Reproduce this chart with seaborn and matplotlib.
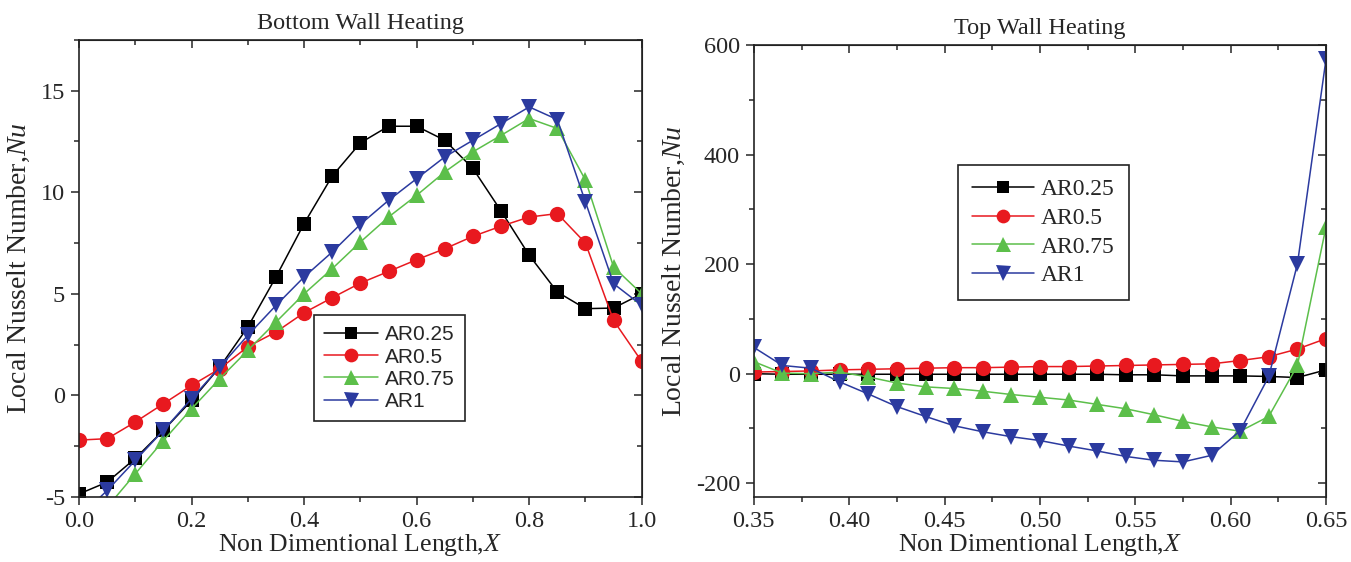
import matplotlib
matplotlib.use("Agg")
import matplotlib.pyplot as plt
import seaborn as sns
from matplotlib.ticker import MultipleLocator, FormatStrFormatter

# Data: Bottom wall heating
x_bottom = [0.0, 0.05, 0.1, 0.15, 0.2, 0.25, 0.3, 0.35, 0.4, 0.45, 0.5,
            0.55, 0.6, 0.65, 0.7, 0.75, 0.8, 0.85, 0.9, 0.95, 1.0]
bottom_ar025 = [-4.85, -4.27, -3.1, -1.72, -0.25, 1.39, 3.37, 5.83, 8.46, 10.8, 12.43,
                13.25, 13.25, 12.56, 11.17, 9.08, 6.9, 5.09, 4.27, 4.3, 5.0]
bottom_ar05 = [-2.2, -2.13, -1.31, -0.41, 0.49, 1.31, 2.4, 3.12, 4.07, 4.81, 5.53,
               6.1, 6.68, 7.22, 7.83, 8.33, 8.78, 8.95, 7.5, 3.69, 1.67]
bottom_ar075 = [-7.0, -5.5, -3.86, -2.22, -0.66, 0.82, 2.22, 3.61, 5.0, 6.24, 7.55,
                8.78, 9.85, 11.0, 11.99, 12.8, 13.63, 13.14, 10.6, 6.32, 5.0]
bottom_ar1 = [-6.0, -4.68, -3.2, -1.72, -0.16, 1.39, 2.96, 4.43, 5.83, 7.06, 8.42,
              9.6, 10.67, 11.74, 12.56, 13.38, 14.2, 13.58, 9.52, 5.5, 4.43]

# Data: Top wall heating
x_top = [0.35, 0.365, 0.38, 0.395, 0.41, 0.425, 0.44, 0.455, 0.47, 0.485, 0.5,
         0.515, 0.53, 0.545, 0.56, 0.575, 0.59, 0.605, 0.62, 0.635, 0.65]
top_ar025 = [0, -1, -1, -1, -1, -1, -1, -1, -1, -1, -1,
             -1, -1, -2, -2, -4, -4, -4, -5, -7, 7]
top_ar05 = [3, 4, 5, 7, 8, 9, 10, 11, 11, 12, 13,
            13, 14, 15, 16, 17, 18, 24, 31, 45, 64]
top_ar075 = [22, 1, 0, 3, -6, -17, -24, -27, -32, -38, -43,
             -48, -56, -64, -75, -87, -97, -105, -78, 15, 268]
top_ar1 = [48, 15, 10, -15, -37, -60, -78, -95, -106, -115, -122,
           -132, -141, -151, -158, -161, -149, -104, -5, 200, 574]

labels = ["AR0.25", "AR0.5", "AR0.75", "AR1"]
colors = ["#000000", "#e8191f", "#5cbf4a", "#2b3a9f"]
markers = ["s", "o", "^", "v"]
msizes = [10, 11, 12, 12]

sns.set_style("ticks")
plt.rcParams["font.family"] = ["Liberation Serif", "DejaVu Serif"]
plt.rcParams["mathtext.fontset"] = "custom"
plt.rcParams["mathtext.it"] = "Liberation Serif:italic"
plt.rcParams["mathtext.rm"] = "Liberation Serif"
plt.rcParams["axes.unicode_minus"] = False

fig = plt.figure(figsize=(13.51, 5.62), dpi=100)
ax1 = fig.add_axes([0.0585, 0.1157, 0.4165, 0.8133])
ax2 = fig.add_axes([0.558, 0.1157, 0.4235, 0.8043])


def draw(ax, x, series):
    for y, lab, c, m, ms in zip(series, labels, colors, markers, msizes):
        sns.lineplot(x=x, y=y, ax=ax, color=c, marker=m, markersize=ms,
                     markeredgewidth=0, markeredgecolor=c, linewidth=1.1,
                     label=lab, sort=False)


def style(ax, xmaj, xmin, ymaj, ymin):
    ax.xaxis.set_major_locator(MultipleLocator(xmaj))
    ax.xaxis.set_minor_locator(MultipleLocator(xmin))
    ax.yaxis.set_major_locator(MultipleLocator(ymaj))
    ax.yaxis.set_minor_locator(MultipleLocator(ymin))
    ax.tick_params(which="major", direction="out", length=6, width=1.1,
                   labelsize=17.5, pad=4)
    ax.tick_params(which="minor", direction="out", length=3.5, width=1.1)
    for s in ax.spines.values():
        s.set_linewidth(1.2)
        s.set_color("#222222")
    # mirrored inward ticks on top and right
    top = ax.secondary_xaxis("top")
    top.xaxis.set_major_locator(MultipleLocator(xmaj))
    top.xaxis.set_minor_locator(MultipleLocator(xmin))
    top.tick_params(which="major", direction="in", length=6, width=1.1, labeltop=False)
    top.tick_params(which="minor", direction="in", length=3.5, width=1.1)
    right = ax.secondary_yaxis("right")
    right.yaxis.set_major_locator(MultipleLocator(ymaj))
    right.yaxis.set_minor_locator(MultipleLocator(ymin))
    right.tick_params(which="major", direction="in", length=6, width=1.1, labelright=False)
    right.tick_params(which="minor", direction="in", length=3.5, width=1.1)
    ax.set_xlabel("Non Dimentional Length,$X$", fontsize=18.5, labelpad=0)
    ax.set_ylabel("Local Nusselt Number,$Nu$", fontsize=20, labelpad=6)


# Left panel
draw(ax1, x_bottom, [bottom_ar025, bottom_ar05, bottom_ar075, bottom_ar1])
ax1.set_xlim(0.0, 1.0)
ax1.set_ylim(-5, 17.5)
style(ax1, 0.2, 0.1, 5, 2.5)
ax1.xaxis.set_major_formatter(FormatStrFormatter("%.1f"))
ax1.set_title("Bottom Wall Heating", fontsize=17.5, pad=8)
leg1 = ax1.legend(loc="upper left", bbox_to_anchor=(0.417, 0.398), frameon=True,
                  fancybox=False, framealpha=1, edgecolor="#222222",
                  prop={"family": "Liberation Sans", "size": 15},
                  handlelength=2.6, handletextpad=0.3, labelspacing=0.15,
                  borderpad=0.5, borderaxespad=0, markerscale=0.9)
leg1.get_frame().set_linewidth(1.2)

# Right panel
draw(ax2, x_top, [top_ar025, top_ar05, top_ar075, top_ar1])
ax2.set_xlim(0.35, 0.65)
ax2.set_ylim(-225, 600)
style(ax2, 0.05, 0.025, 200, 100)
ax2.xaxis.set_major_formatter(FormatStrFormatter("%.2f"))
ax2.set_title("Top Wall Heating", fontsize=17.5, pad=8)
leg2 = ax2.legend(loc="upper left", bbox_to_anchor=(0.357, 0.735), frameon=True,
                  fancybox=False, framealpha=1, edgecolor="#222222",
                  prop={"family": "Liberation Serif", "size": 17},
                  handlelength=2.6, handletextpad=0.3, labelspacing=0.3,
                  borderpad=0.6, borderaxespad=0, markerscale=0.9)
leg2.get_frame().set_linewidth(1.2)

fig.savefig("out.png", dpi=100)
